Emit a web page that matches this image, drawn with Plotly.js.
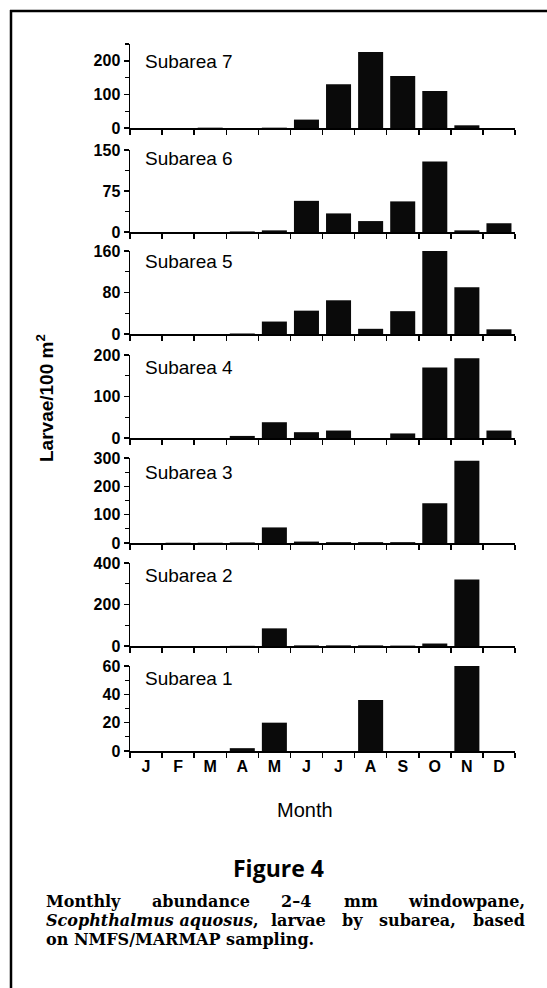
<!DOCTYPE html>
<html>
<head>
<meta charset="utf-8">
<script src="https://cdn.plot.ly/plotly-3.0.1.min.js"></script>
<style>html,body{margin:0;padding:0;background:#fff;}#chart{width:547px;height:988px;}</style>
</head>
<body>
<div id="chart"></div>
<script>
// ---- data ----
var months = ["J","F","M","A","M","J","J","A","S","O","N","D"];
var monthIndex = [1,2,3,4,5,6,7,8,9,10,11,12];
var subareaNames = ["Subarea 1","Subarea 2","Subarea 3","Subarea 4","Subarea 5","Subarea 6","Subarea 7"];
var subarea1 = [0,0,0,2,20,0,0,36,0,0,60,0];
var subarea2 = [0,0,0,1,85,3,3,3,2,12,320,0];
var subarea3 = [0,1,1,2,55,5,3,3,3,140,290,0];
var subarea4 = [0,0,0,5,38,14,18,0,11,170,192,18];
var subarea5 = [0,0,0,1,24,45,65,10,44,160,90,9];
var subarea6 = [0,0,0,1,3,57,34,20,56,129,3,16];
var subarea7 = [0,0,1,0,1,25,130,226,155,110,8,0];
var yMax   = [60,400,300,200,160,150,250];
var yMajor = [20,200,100,100,80,75,100];
var yMinor = [10,100,50,50,40,37.5,50];
var yTitle = "Larvae/100 m<sup>2</sup>";
var xTitle = "Month";
var figTitle = "Figure 4";

// ---- layout helpers (pixel geometry) ----
var W = 547, H = 988;
var L = 130, R = 515, T = 44, B = 751;
function px(x){ return (x - L) / (R - L); }
function py(y){ return (B - y) / (B - T); }
// panel pixel extents, bottom (subarea 1) to top (subarea 7)
var panelPx = [[666,751],[563,646],[458,543],[355,438],[251,334],[150,232],[44,128]];
var labelPx = [678,575,472,367,261,159,61];

var series = [subarea1,subarea2,subarea3,subarea4,subarea5,subarea6,subarea7];
var sans = "Liberation Sans, Arial, Helvetica, sans-serif";

var traces = [];
var layout = {
  width: W, height: H,
  margin: {l: L, r: W - R, t: T, b: H - B, pad: 0},
  paper_bgcolor: "#fff", plot_bgcolor: "#fff",
  showlegend: false,
  bargap: 0.22,
  font: {family: sans, color: "#000"},
  annotations: [], shapes: []
};

for (var k = 0; k < 7; k++) {
  var sfx = k === 0 ? "" : String(k + 1);
  traces.push({
    type: "bar", x: monthIndex, y: series[k],
    xaxis: "x" + sfx, yaxis: "y" + sfx,
    marker: {color: "#0a0a0a", line: {width: 0}},
    hoverinfo: "skip"
  });
  layout["xaxis" + sfx] = {
    domain: [0, 1], anchor: "y" + sfx,
    range: [0.5, 12.5], fixedrange: true,
    showgrid: false, zeroline: false,
    showline: true, linecolor: "#000", linewidth: 1.5,
    tickmode: "array", tickvals: monthIndex, ticktext: months,
    ticks: "", showticklabels: k === 0,
    tickfont: {family: sans, size: 16, weight: "bold", color: "#000"},
    minor: {tick0: 0.5, dtick: 1, ticks: "outside", ticklen: 5, tickwidth: 1.5, tickcolor: "#000", showgrid: false}
  };
  layout["yaxis" + sfx] = {
    domain: [py(panelPx[k][1]), py(panelPx[k][0])], anchor: "x" + sfx,
    range: [0, yMax[k]], fixedrange: true,
    showgrid: false, zeroline: false,
    showline: true, linecolor: "#000", linewidth: 1.5,
    tickmode: "linear", tick0: 0, dtick: yMajor[k],
    ticks: "outside", ticklen: 5, tickwidth: 1.5, tickcolor: "#000",
    tickfont: {family: sans, size: 16, weight: "bold", color: "#000"},
    minor: {dtick: yMinor[k], ticks: "outside", ticklen: 4, tickwidth: 1.2, tickcolor: "#000", showgrid: false}
  };
  layout.annotations.push({
    xref: "paper", yref: "paper", x: px(143), y: py(labelPx[k]),
    xanchor: "left", yanchor: "middle", showarrow: false,
    text: subareaNames[k], font: {family: sans, size: 19, color: "#000"}
  });
}

// axis titles
layout.annotations.push({
  xref: "paper", yref: "paper", x: px(45), y: py(398), textangle: -90,
  xanchor: "center", yanchor: "middle", showarrow: false,
  text: yTitle, font: {family: sans, size: 19, weight: "bold", color: "#000"}
});
layout.annotations.push({
  xref: "paper", yref: "paper", x: px(305), y: py(810),
  xanchor: "center", yanchor: "middle", showarrow: false,
  text: xTitle, font: {family: sans, size: 20, color: "#000"}
});
// figure caption
layout.annotations.push({
  xref: "paper", yref: "paper", x: px(278), y: py(868),
  xanchor: "center", yanchor: "middle", showarrow: false,
  text: "<b>" + figTitle + "</b>", font: {family: "Open Sans, Noto Sans, sans-serif", size: 23, color: "#000"}
});
var serif = "DejaVu Serif, Liberation Serif, serif";
var capFont = {family: serif, size: 16, weight: "bold", color: "#000"};
var capLines = [
  {y: 901, words: [["Monthly", 44, "left"], ["abundance", 150, "left"], ["2–4", 279, "left"], ["mm", 342, "left"], ["windowpane,", 527, "right"]]},
  {y: 920, words: [["<i>Scophthalmus aquosus</i>,", 44, "left"], ["larvae", 269, "left"], ["by", 340, "left"], ["subarea,", 377, "left"], ["based", 527, "right"]]},
  {y: 939, words: [["on NMFS/MARMAP sampling.", 44, "left"]]}
];
capLines.forEach(function(ln){
  ln.words.forEach(function(w){
    layout.annotations.push({xref:"paper", yref:"paper", x: px(w[1]), y: py(ln.y), xanchor: w[2], yanchor:"middle", showarrow:false, text: w[0], font: capFont});
  });
});

// frame
layout.shapes.push({type:"line", xref:"paper", yref:"paper", x0: px(10), x1: px(548), y0: py(11), y1: py(11), line:{color:"#000", width:2.5}});
layout.shapes.push({type:"line", xref:"paper", yref:"paper", x0: px(11), x1: px(11), y0: py(10), y1: py(990), line:{color:"#000", width:2.5}});

Plotly.newPlot("chart", traces, layout, {staticPlot: true, displayModeBar: false});
</script>
</body>
</html>
